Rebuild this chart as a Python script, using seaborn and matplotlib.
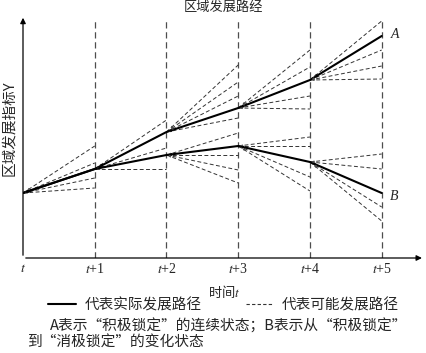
import numpy as np
import pandas as pd
import seaborn as sns
import matplotlib.pyplot as plt
from matplotlib.lines import Line2D

# time steps and tick labels
periods = [0, 1, 2, 3, 4, 5]
tick_labels = ['$t$', '$t$+1', '$t$+2', '$t$+3', '$t$+4', '$t$+5']

# actual paths (region development index Y)
path_a = [6.5, 8.9, 12.6, 15.0, 17.8, 22.2]
path_b = [6.5, 8.9, 10.3, 11.2, 9.6, 6.5]

# possible paths: fans of dashed lines, start node -> end values at next period
fan_start_period = [0, 1, 2, 2, 3, 3, 4, 4]
fan_start_value = [6.5, 8.9, 12.6, 10.3, 15.0, 11.2, 17.8, 9.6]
fan_end_values = [
    [11.2, 9.5, 8.0, 7.0],
    [13.8, 11.0, 8.9],
    [19.3, 17.6, 16.2, 14.0],
    [12.5, 10.3, 8.8, 7.5],
    [20.8, 19.1, 16.2, 14.9],
    [12.1, 11.2, 8.1, 6.7],
    [23.7, 20.8, 19.2, 17.9],
    [10.4, 8.9, 5.1, 3.7],
]

sns.set_style('white')
plt.rcParams['font.family'] = ['Noto Sans CJK SC', 'DejaVu Sans']
plt.rcParams['mathtext.fontset'] = 'stix'

# build long tables for seaborn
rows = []
for i, (p0, v0, ends) in enumerate(zip(fan_start_period, fan_start_value, fan_end_values)):
    for j, v1 in enumerate(ends):
        seg = 'f%d_%d' % (i, j)
        rows.append({'seg': seg, 'period': p0, 'value': v0})
        rows.append({'seg': seg, 'period': p0 + 1, 'value': v1})
fans = pd.DataFrame(rows)

actual = pd.DataFrame({
    'period': periods * 2,
    'value': path_a + path_b,
    'path': ['A'] * len(periods) + ['B'] * len(periods),
})

fig = plt.figure(figsize=(4.26, 3.53), dpi=100)
ax = fig.add_axes([23 / 426, 1 - 258 / 353, 1 - 23 / 426 - 0.003, (258 - 15) / 353])

dash = (0, (5, 3))
ax.vlines(periods[1:], 0, 24.0, colors='0.3', linestyles=[dash], lw=0.9)

sns.lineplot(data=fans, x='period', y='value', units='seg', estimator=None,
             color='0.2', lw=0.7, linestyle='--', dashes=False, ax=ax)
for ls in ax.lines:
    ls.set_dashes((4, 2.5))
sns.lineplot(data=actual, x='period', y='value', units='path', estimator=None,
             color='black', lw=1.5, ax=ax)

# tiny arrowheads at the start of every segment
for p0, v0, ends in zip(fan_start_period, fan_start_value, fan_end_values):
    for v1 in ends:
        ax.annotate('', xy=(p0 + 0.03, v0 + (v1 - v0) * 0.03),
                    xytext=(p0 + 0.1, v0 + (v1 - v0) * 0.1),
                    arrowprops=dict(arrowstyle='-|>', lw=0.3, color='0.3',
                                    mutation_scale=3))
for path in (path_a, path_b):
    for k in range(1, len(periods)):
        ax.annotate('', xy=(periods[k - 1] + 0.03, path[k - 1] + (path[k] - path[k - 1]) * 0.03),
                    xytext=(periods[k - 1] + 0.1, path[k - 1] + (path[k] - path[k - 1]) * 0.1),
                    arrowprops=dict(arrowstyle='-|>', lw=0.5, color='black',
                                    mutation_scale=4))

ax.text(5.12, path_a[-1] + 0.1, 'A', fontsize=10, style='italic',
        family='Liberation Serif', va='center', ha='left')
ax.text(5.12, path_b[-1] - 0.3, 'B', fontsize=10, style='italic',
        family='Liberation Serif', va='center', ha='left')

ax.set_xlim(0, 5.6)
ax.set_ylim(0, 24.3)
for s in ax.spines.values():
    s.set_visible(False)
ax.annotate('', xy=(0, 1), xytext=(0, 0), xycoords='axes fraction',
            arrowprops=dict(arrowstyle='-|>', lw=0.9, color='black', mutation_scale=8))
ax.annotate('', xy=(1, 0), xytext=(0, 0), xycoords='axes fraction',
            arrowprops=dict(arrowstyle='-|>', lw=0.9, color='black', mutation_scale=8))

ax.set_xticks(periods)
ax.set_xticklabels(tick_labels, fontsize=10, family='Liberation Serif')
ax.tick_params(axis='x', length=0, pad=3)
ax.set_yticks([])
ax.set_xlabel('时间$t$', fontsize=9.5, labelpad=5)
ax.set_ylabel('')
ax.set_title('区域发展路经', fontsize=9.5, pad=3)
fig.text(9 / 426, 1 - 128 / 353, '区域发展指标Y', fontsize=10.5, rotation=90,
         ha='center', va='center')

handles = [Line2D([], [], color='black', lw=1.5),
           Line2D([], [], color='0.2', lw=0.8, dashes=(3, 2))]
fig.legend(handles, ['代表实际发展路径', '代表可能发展路径'], ncol=2, frameon=False,
           loc='center', bbox_to_anchor=(0.525, 1 - 305 / 353), fontsize=10.5,
           handlelength=1.9, handletextpad=0.6, columnspacing=3.0)

fig.text(50 / 426, 1 - 326 / 353, 'A表示“积极锁定”的连续状态；B表示从“积极锁定”',
         fontsize=10.6, va='center', ha='left')
fig.text(27 / 426, 1 - 343 / 353, '到“消极锁定”的变化状态',
         fontsize=10.6, va='center', ha='left')

fig.savefig('out.png', dpi=100)
